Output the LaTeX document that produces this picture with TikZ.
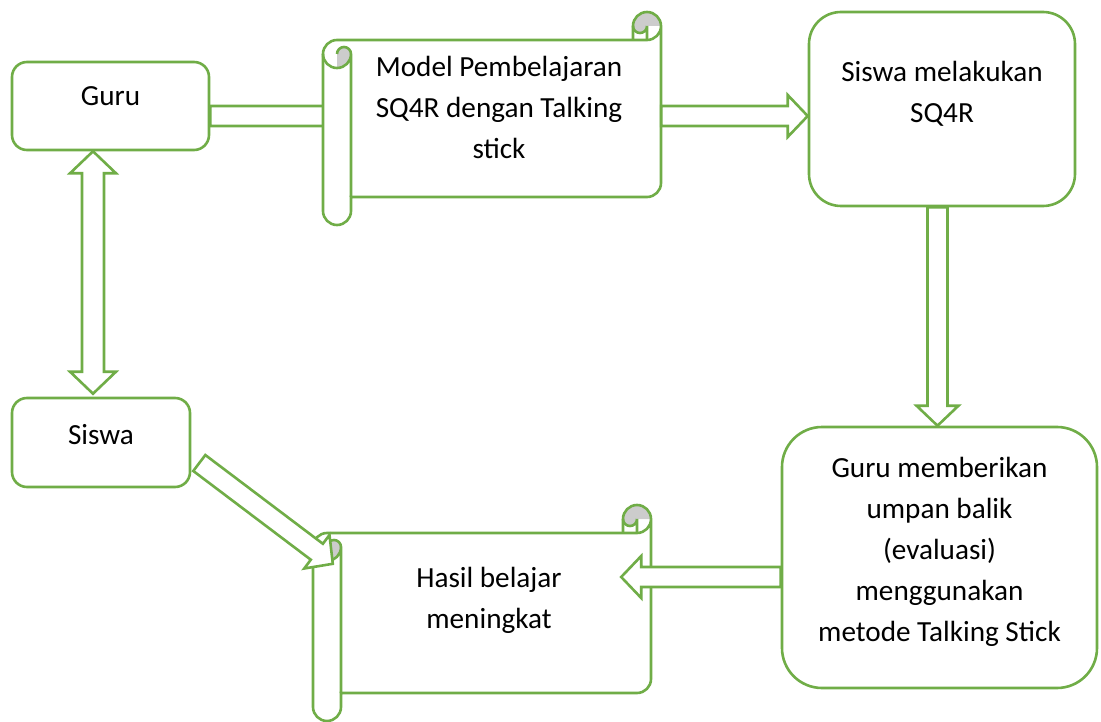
\documentclass[tikz,border=0pt]{standalone}
\usepackage{fontspec}
\setmainfont{Carlito}
\usetikzlibrary{calc,backgrounds}
\definecolor{hijau}{HTML}{70AD47}
\definecolor{abu}{HTML}{CCCCCC}
\tikzset{
  garis/.style={draw=hijau,line width=2.6pt},
  kotak/.style={garis,fill=white,align=center,inner sep=0pt},
  panah/.style={garis,fill=white},
  teks/.style={align=center,inner sep=0pt}
}
% panah blok dari #1 ke #2
\newcommand{\panahblok}[2]{%
  \path ($(#2)!20pt!(#1)$) coordinate (leher);
  \draw[panah] ($(#1)!10pt!90:(#2)$) -- ($(leher)!10pt!-90:(#1)$)
    -- ($(leher)!21pt!-90:(#1)$) -- (#2) -- ($(leher)!21pt!90:(#1)$)
    -- ($(leher)!10pt!90:(#1)$) -- ($(#1)!10pt!-90:(#2)$) -- cycle;}
% panah dua arah
\newcommand{\panahganda}[2]{%
  \path ($(#1)!22pt!(#2)$) coordinate (leher1) ($(#2)!22pt!(#1)$) coordinate (leher2);
  \draw[panah] (#1) -- ($(leher1)!23pt!90:(#2)$) -- ($(leher1)!11pt!90:(#2)$)
    -- ($(leher2)!11pt!-90:(#1)$) -- ($(leher2)!23pt!-90:(#1)$) -- (#2)
    -- ($(leher2)!23pt!90:(#1)$) -- ($(leher2)!11pt!90:(#1)$)
    -- ($(leher1)!11pt!-90:(#2)$) -- ($(leher1)!23pt!-90:(#2)$) -- cycle;}
% gulungan: kiri, atas, kanan, bawah
\newcommand{\gulungan}[4]{%
  \draw[garis,fill=white] ({#1},{#2+42}) arc[start angle=180,end angle=90,radius=14pt]
    -- ({#3-14},{#2+28}) arc[start angle=270,end angle=360,radius=14pt]
    -- ({#3},{#4-42}) arc[start angle=0,end angle=-90,radius=14pt]
    -- ({#1+28},{#4-28}) -- ({#1+28},{#4-14}) arc[start angle=0,end angle=-180,radius=14pt]
    -- cycle;
  \fill[abu] ({#3},{#2+14}) arc[start angle=0,end angle=180,radius=14pt]
    arc[start angle=180,end angle=360,radius=7pt] -- cycle;
  \fill[abu] ({#1+14},{#2+42}) arc[start angle=180,end angle=0,radius=7pt]
    arc[start angle=0,end angle=-90,radius=14pt] -- cycle;
  \draw[garis] ({#3},{#2+14}) arc[start angle=0,end angle=180,radius=14pt] -- ({#3-28},{#2+28});
  \draw[garis] ({#3-28},{#2+14}) arc[start angle=180,end angle=360,radius=7pt] -- ({#3-14},{#2+28});
  \draw[garis] ({#1},{#2+42}) arc[start angle=180,end angle=360,radius=14pt] -- ({#1+28},{#4-28});
  \draw[garis] ({#1+14},{#2+42}) arc[start angle=180,end angle=0,radius=7pt];
}
\begin{document}
\begin{tikzpicture}[x=1pt,y=-1pt,font=\fontsize{29.2}{41}\selectfont]
\useasboundingbox (0,0) rectangle (1101,722);
% kotak
\node[kotak,rounded corners=15pt,minimum width=197pt,minimum height=88pt,text height=21pt,text depth=21pt] (guru) at (110.5,106) {Guru};
\node[kotak,rounded corners=15pt,minimum width=178pt,minimum height=89pt,text height=21pt,text depth=18pt] (siswa) at (101,442.5) {Siswa};
\node[kotak,rounded corners=32pt,minimum width=266pt,minimum height=194pt,text height=38pt,text depth=10pt] (lakukan) at (942,109) {Siswa melakukan\\SQ4R};
\node[kotak,rounded corners=40pt,minimum width=315pt,minimum height=261pt,text height=177pt,text depth=10pt] (umpan) at (939.5,557.5) {Guru memberikan\\umpan balik\\(evaluasi)\\menggunakan\\metode Talking Stick};
% gulungan
\gulungan{323}{12}{661}{225}
\node[teks,minimum width=296pt,minimum height=157pt,text height=91pt,text depth=10pt] (model) at (499,118.5) {Model Pembelajaran\\SQ4R dengan Talking\\stick};
\gulungan{313}{505}{651}{721}
\node[teks,minimum width=296pt,minimum height=160pt,text height=40pt,text depth=10pt] (hasil) at (489,613) {Hasil belajar\\meningkat};
% ujung panah
\coordinate (g1) at ($(guru.east)+(0,10)$);
\coordinate (m1) at ($(model.west)+(0,-2.5)$);
\coordinate (m2) at ($(model.east)+(14,-2.5)$);
\coordinate (l1) at ($(lakukan.west)+(0,7)$);
\coordinate (l2) at ($(lakukan.south)+(-4.5,0)$);
\coordinate (u1) at ($(umpan.north)+(-2,0)$);
\coordinate (u2) at ($(umpan.west)+(0,19.5)$);
\coordinate (h1) at ($(hasil.east)+(-16,-36)$);
\coordinate (g2) at ($(guru.south)+(-17.5,0)$);
\coordinate (s1) at ($(siswa.north)+(-8,-3)$);
\coordinate (s2) at ($(siswa.east)+(8,20.5)$);
\coordinate (h2) at ($(hasil.north west)+(-8,31)$);
% panah
\begin{scope}[on background layer]
\panahblok{g1}{m1}
\end{scope}
\panahblok{m2}{l1}
\panahblok{l2}{u1}
\panahblok{u2}{h1}
\panahganda{g2}{s1}
\panahblok{s2}{h2}
\end{tikzpicture}
\end{document}
